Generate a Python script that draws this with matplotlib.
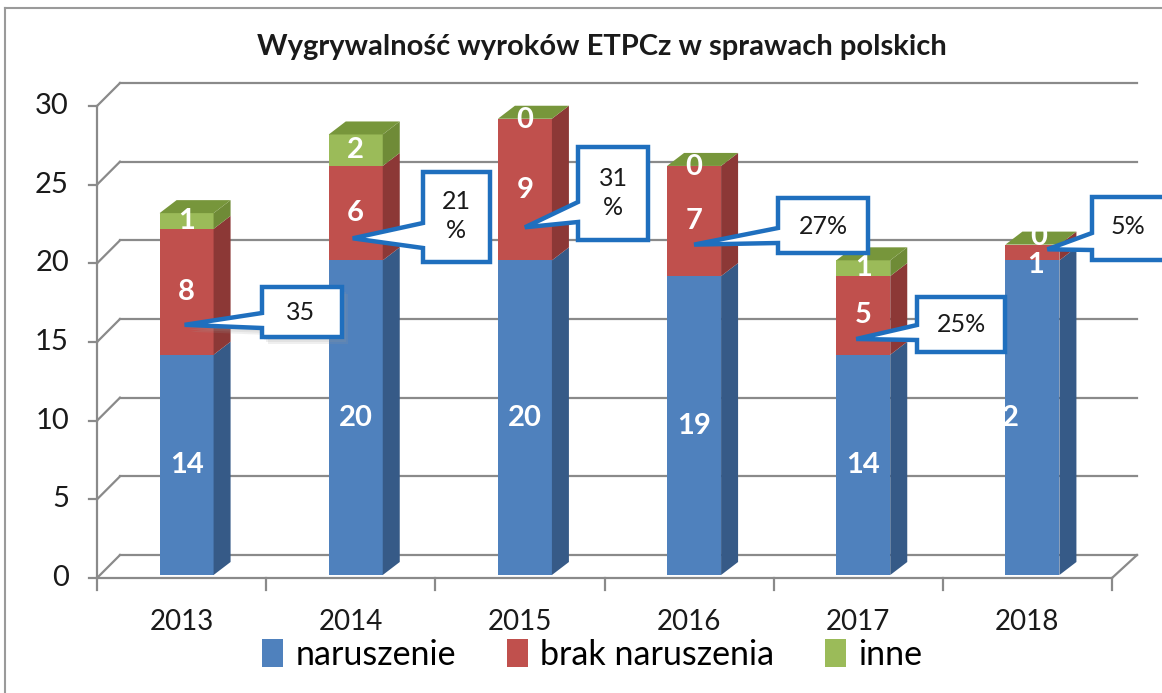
import matplotlib
matplotlib.use("Agg")
import matplotlib.pyplot as plt
from matplotlib.patches import Polygon, Rectangle, Patch
from matplotlib.lines import Line2D
import matplotlib.transforms as mtransforms

# ---------------- data ----------------
years = ["2013", "2014", "2015", "2016", "2017", "2018"]
naruszenie = [14, 20, 20, 19, 14, 20]
brak_naruszenia = [8, 6, 9, 7, 5, 1]
inne = [1, 2, 0, 0, 1, 0]
naruszenie_labels = ["14", "20", "20", "19", "14", "2"]
callout_texts = ["35", "21\n%", "31\n%", "27%", "25%", "5%"]
y_ticks = [0, 5, 10, 15, 20, 25, 30]
series_names = ["naruszenie", "brak naruszenia", "inne"]
title = "Wygrywalność wyroków ETPCz w sprawach polskich"

# ---------------- style ----------------
FONT = "Lato"
plt.rcParams["font.family"] = [FONT, "DejaVu Sans"]
front_cols = ["#4F81BD", "#C0504D", "#9BBB59"]
side_cols = ["#365A87", "#8C3836", "#6F8B37"]
top_col = "#77963B"
grid_col = "#8A8A8A"
call_col = "#1F6FBE"

W, H = 1162, 693
fig = plt.figure(figsize=(W / 100, H / 100), dpi=100)
fig.patch.set_facecolor("white")

# front plane of the plot (pixels, top-left origin)
L, R, B, T = 97, 1112, 578, 106
ax = fig.add_axes([L / W, 1 - B / H, (R - L) / W, (B - T) / H])
ax.set_xlim(-0.5, len(years) - 0.5)
ax.set_ylim(0, 30)
ax.axis("off")
sx = (R - L) / len(years)   # px per category
sy = (B - T) / 30.0         # px per unit


def dx(p):
    return p / sx


def dy(p):
    return p / sy


ID = mtransforms.IdentityTransform()


def img(x, y):
    """image pixel (top-left origin) -> display coords"""
    return (x, H - y)


# outer frame
fig.add_artist(Line2D([5, W], [H - 8, H - 8], transform=ID, color="#9A9A9A", lw=1.5))
fig.add_artist(Line2D([5, 5], [0, H - 8], transform=ID, color="#9A9A9A", lw=1.5))

# ---------------- walls / grid ----------------
wx, wy = dx(23), dy(23)
xr_end = len(years) - 0.5 + dx(25)
for v in y_ticks:
    ax.plot([-0.5, -0.5 + wx], [v, v + wy], color=grid_col, lw=1.6, clip_on=False, zorder=1)
    ax.plot([-0.5 + wx, xr_end], [v + wy, v + wy], color=grid_col, lw=1.6, clip_on=False, zorder=1)
    ax.plot([-0.5 - dx(8), -0.5], [v, v], color=grid_col, lw=1.6, clip_on=False, zorder=1)
    ax.text(-0.5 - dx(28), v, str(v), ha="right", va="center", fontsize=21,
            color="#1a1a1a", clip_on=False)
ax.plot([-0.5, -0.5], [0, 30], color=grid_col, lw=1.6, clip_on=False, zorder=1)
# floor
ax.plot([-0.5, len(years) - 0.5], [0, 0], color=grid_col, lw=1.6, clip_on=False, zorder=1)
ax.plot([len(years) - 0.5, xr_end], [0, wy], color=grid_col, lw=1.6, clip_on=False, zorder=1)
for i in range(len(years) + 1):
    ax.plot([i - 0.5, i - 0.5], [0, -dy(12)], color=grid_col, lw=1.6, clip_on=False, zorder=1)
for i, yr in enumerate(years):
    ax.text(i, -dy(44), yr, ha="center", va="center", fontsize=20, color="#1a1a1a",
            clip_on=False)

# ---------------- bars ----------------
bw = dx(54)
bx_off, by_off = dx(5), dy(3)
ddx, ddy = dx(17), dy(13)
bar_centers = []
for i in range(len(years)):
    xc = i + bx_off
    bar_centers.append(xc)
    x0, x1 = xc - bw / 2, xc + bw / 2
    base = by_off
    vals = [naruszenie[i], brak_naruszenia[i], inne[i]]
    for k, v in enumerate(vals):
        y0, y1 = base, base + v
        if v > 0:
            ax.add_patch(Rectangle((x0, y0), bw, v, facecolor=front_cols[k],
                                   edgecolor="none", zorder=3, clip_on=False))
            ax.add_patch(Polygon([(x1, y0), (x1 + ddx, y0 + ddy), (x1 + ddx, y1 + ddy), (x1, y1)],
                                 closed=True, facecolor=side_cols[k], edgecolor="none",
                                 zorder=3, clip_on=False))
        base = y1
    top = base
    ax.add_patch(Polygon([(x0, top), (x1, top), (x1 + ddx, top + ddy), (x0 + ddx, top + ddy)],
                         closed=True, facecolor=top_col, edgecolor="none", zorder=3,
                         clip_on=False))

# data labels
lab_kw = dict(ha="center", va="center", color="white", fontsize=21, fontweight="bold",
              zorder=5, clip_on=False)
for i in range(len(years)):
    xc = bar_centers[i]
    n, b, o = naruszenie[i], brak_naruszenia[i], inne[i]
    if i == len(years) - 1:
        ax.text(xc - dx(22), by_off + n / 2, naruszenie_labels[i], **lab_kw)
        ax.text(xc + dx(3), by_off + n - dy(5), str(b), **lab_kw)
        ax.text(xc + dx(6), by_off + n + b + dy(8), str(o), **lab_kw)
        continue
    ax.text(xc, by_off + n / 2, naruszenie_labels[i], **lab_kw)
    ax.text(xc, by_off + n + b / 2, str(b), **lab_kw)
    if o > 0:
        ax.text(xc, by_off + n + b + o / 2, str(o), **lab_kw)
    else:
        ax.text(xc, by_off + n + b - dy(1), str(o), **lab_kw)

# ---------------- callouts ----------------
boxes = [(262, 287, 342, 337), (423, 172, 490, 262), (578, 147, 648, 240),
         (778, 198, 868, 253), (917, 297, 1005, 352), (1092, 197, 1180, 260)]
wedge = [(313, 328), (223, 248), (202, 222), (228, 243), (325, 340), (233, 250)]
tip_dx = [-2, -3, 0, 0, -7, 15]      # px offset of pointer tip from bar centre
tip_dy = [1.9, 1.4, 2.1, 2.0, 1.0, 0.7]  # units above blue segment
text_pos = [(301, 312), (456, 216), (613, 193), (823, 226), (961, 324), (1128, 226)]

for i in range(len(years)):
    tx, ty = ax.transData.transform((bar_centers[i] + dx(tip_dx[i]), by_off + naruszenie[i] + tip_dy[i]))
    x0, y0, x1, y1 = boxes[i]
    yb1, yb2 = wedge[i]
    pts = [img(x0, y0), img(x1, y0), img(x1, y1), img(x0, y1), img(x0, yb2),
           (tx, ty), img(x0, yb1)]
    if i == 0:
        for k, (ox, oy) in enumerate([(6, -7), (4, -5), (2, -3)]):
            sh = [(p[0] + ox, p[1] + oy) for p in pts]
            fig.add_artist(Polygon(sh, closed=True, transform=ID, facecolor="#9A9A9A",
                                   edgecolor="none", alpha=0.15, zorder=6))
    fig.add_artist(Polygon(pts, closed=True, transform=ID, facecolor="white",
                           edgecolor=call_col, lw=3.2, joinstyle="miter", zorder=7))
    px, py = text_pos[i]
    fig.text(px, H - py, callout_texts[i], transform=ID, ha="center", va="center",
             fontsize=18, color="#1a1a1a", linespacing=1.35, zorder=8)

# ---------------- title & legend ----------------
fig.text(602 / W, 1 - 47 / H, title, ha="center", va="center", fontsize=21,
         fontweight="bold", color="#1a1a1a")
handles = [Patch(facecolor=c, edgecolor="none") for c in front_cols]
fig.legend(handles, series_names, loc="center", bbox_to_anchor=(592 / W, 1 - 655 / H),
           ncol=3, frameon=False, fontsize=24.5, handlelength=0.62, handleheight=0.9,
           handletextpad=0.35, columnspacing=1.5, borderaxespad=0)

fig.savefig("out.png", dpi=100, facecolor="white")
